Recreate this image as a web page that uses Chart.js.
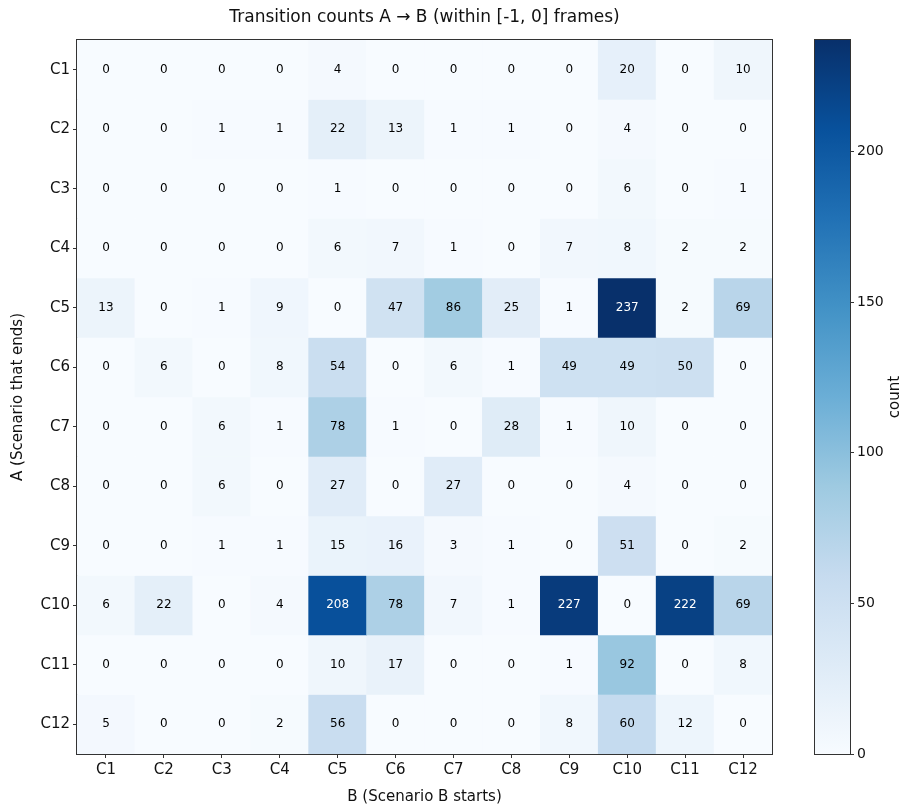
<!DOCTYPE html>
<html>
<head>
<meta charset="utf-8">
<script src="https://cdn.jsdelivr.net/npm/chart.js@4.4.1/dist/chart.umd.min.js"></script>
<style>
  html, body { margin: 0; padding: 0; background: #fff; }
  #wrap { position: relative; width: 904px; height: 810px; }
  #main { position: absolute; left: 0; top: 0; }
  #cbar { position: absolute; left: 790px; top: 0; }
</style>
</head>
<body>
<div id="wrap">
  <canvas id="main" width="904" height="810"></canvas>
  <canvas id="cbar" width="114" height="810"></canvas>
</div>
<script>
// ---- data ----
const rowLabels = ['C1','C2','C3','C4','C5','C6','C7','C8','C9','C10','C11','C12'];
const colLabels = ['C1','C2','C3','C4','C5','C6','C7','C8','C9','C10','C11','C12'];
const rowC1  = [0, 0, 0, 0, 4, 0, 0, 0, 0, 20, 0, 10];
const rowC2  = [0, 0, 1, 1, 22, 13, 1, 1, 0, 4, 0, 0];
const rowC3  = [0, 0, 0, 0, 1, 0, 0, 0, 0, 6, 0, 1];
const rowC4  = [0, 0, 0, 0, 6, 7, 1, 0, 7, 8, 2, 2];
const rowC5  = [13, 0, 1, 9, 0, 47, 86, 25, 1, 237, 2, 69];
const rowC6  = [0, 6, 0, 8, 54, 0, 6, 1, 49, 49, 50, 0];
const rowC7  = [0, 0, 6, 1, 78, 1, 0, 28, 1, 10, 0, 0];
const rowC8  = [0, 0, 6, 0, 27, 0, 27, 0, 0, 4, 0, 0];
const rowC9  = [0, 0, 1, 1, 15, 16, 3, 1, 0, 51, 0, 2];
const rowC10 = [6, 22, 0, 4, 208, 78, 7, 1, 227, 0, 222, 69];
const rowC11 = [0, 0, 0, 0, 10, 17, 0, 0, 1, 92, 0, 8];
const rowC12 = [5, 0, 0, 2, 56, 0, 0, 0, 8, 60, 12, 0];
const counts = [rowC1,rowC2,rowC3,rowC4,rowC5,rowC6,rowC7,rowC8,rowC9,rowC10,rowC11,rowC12];
const colorbarTicks = [0, 50, 100, 150, 200];
const vmin = 0;
const vmax = Math.max(...counts.flat());

// ---- Blues colormap ----
const bluesNodes = ['#f7fbff','#deebf7','#c6dbef','#9ecae1','#6baed6','#4292c6','#2171b5','#08519c','#08306b'];
function hex2rgb(h){ return [1,3,5].map(i => parseInt(h.substr(i,2),16)); }
const bluesRGB = bluesNodes.map(hex2rgb);
function blues(t){
  t = Math.max(0, Math.min(1, t));
  const n = bluesRGB.length - 1;
  const p = t * n;
  const i = Math.min(Math.floor(p), n - 1);
  const f = p - i;
  const a = bluesRGB[i], b = bluesRGB[i+1];
  const c = a.map((v,k) => Math.round(v + (b[k]-v)*f));
  return `rgb(${c[0]},${c[1]},${c[2]})`;
}

const FONT = "'DejaVu Sans', sans-serif";
const nRows = rowLabels.length;

// one dataset per row, floating bars spanning that row
const datasets = counts.map((row, r) => ({
  label: rowLabels[r],
  data: row.map(() => [nRows - 1 - r, nRows - r]),
  backgroundColor: row.map(v => blues((v - vmin) / (vmax - vmin))),
  borderWidth: 0,
  barPercentage: 1,
  categoryPercentage: 1,
  grouped: false
}));

const cellText = {
  id: 'cellText',
  afterDatasetsDraw(chart) {
    const ctx = chart.ctx;
    const xs = chart.scales.x, ys = chart.scales.y;
    ctx.save();
    ctx.font = `12px ${FONT}`;
    ctx.textAlign = 'center';
    ctx.textBaseline = 'middle';
    counts.forEach((row, r) => {
      row.forEach((v, c) => {
        const x = xs.getPixelForValue(c);
        const y = ys.getPixelForValue(nRows - 0.5 - r);
        ctx.fillStyle = v > vmax / 2 ? '#ffffff' : '#000000';
        ctx.fillText(String(v), x, y);
      });
    });
    ctx.restore();
  }
};

const frame = {
  id: 'frame',
  afterDraw(chart) {
    const a = chart.chartArea, ctx = chart.ctx;
    ctx.save();
    ctx.strokeStyle = '#333';
    ctx.lineWidth = 1;
    ctx.strokeRect(Math.round(a.left) - 0.5, Math.round(a.top) - 0.5, Math.round(a.right - a.left) + 1, Math.round(a.bottom - a.top) + 1);
    ctx.restore();
  }
};

new Chart(document.getElementById('main'), {
  type: 'bar',
  data: { labels: colLabels, datasets },
  options: {
    responsive: false,
    animation: false,
    layout: { padding: { left: 0, right: 132, top: 0, bottom: 0 } },
    plugins: {
      legend: { display: false },
      tooltip: { enabled: false },
      title: {
        display: true,
        text: 'Transition counts A \u2192 B (within [-1, 0] frames)',
        fullSize: false,
        color: '#111',
        font: { family: FONT, size: 17, weight: 'normal' },
        padding: { top: 7, bottom: 12.6 }
      }
    },
    scales: {
      x: {
        type: 'category',
        offset: true,
        grid: { offset: false, drawOnChartArea: false, drawTicks: true, tickLength: 4, color: '#333' },
        border: { display: true, color: '#333' },
        ticks: { color: '#111', font: { family: FONT, size: 15 }, padding: 3, maxRotation: 0 },
        title: { display: true, text: 'B (Scenario B starts)', color: '#111', font: { family: FONT, size: 15 }, padding: { top: 0, bottom: 4 } },
        afterFit(s) { s.height = 56; }
      },
      y: {
        type: 'linear',
        min: 0, max: nRows,
        afterBuildTicks(s) { s.ticks = rowLabels.map((_, i) => ({ value: i + 0.5 })); },
        grid: { drawOnChartArea: false, drawTicks: true, tickLength: 4, color: '#333' },
        border: { display: true, color: '#333' },
        ticks: {
          color: '#111', font: { family: FONT, size: 15 }, padding: 3,
          callback: (v) => rowLabels[Math.round(nRows - 0.5 - v)]
        },
        title: { display: true, text: 'A (Scenario that ends)', color: '#111', font: { family: FONT, size: 15 }, padding: { top: 9, bottom: 0 } },
        afterFit(s) { s.width = 77; }
      }
    }
  },
  plugins: [cellText, frame]
});

// ---- colorbar ----
const cbarLabel = {
  id: 'cbarLabel',
  afterDraw(chart) {
    const a = chart.chartArea, ctx = chart.ctx;
    ctx.save();
    ctx.strokeStyle = '#333';
    ctx.lineWidth = 1;
    ctx.strokeRect(Math.round(a.left) - 0.5, Math.round(a.top) - 0.5, Math.round(a.right - a.left) + 1, Math.round(a.bottom - a.top) + 1);
    ctx.translate(105, (a.top + a.bottom) / 2);
    ctx.rotate(-Math.PI / 2);
    ctx.font = `15px ${FONT}`;
    ctx.fillStyle = '#111';
    ctx.textAlign = 'center';
    ctx.textBaseline = 'middle';
    ctx.fillText('count', 0, 0);
    ctx.restore();
  }
};

new Chart(document.getElementById('cbar'), {
  type: 'bar',
  data: {
    labels: ['count'],
    datasets: [{
      data: [[vmin, vmax]],
      barPercentage: 1,
      categoryPercentage: 1,
      borderWidth: 0,
      backgroundColor(ctx) {
        const area = ctx.chart.chartArea;
        if (!area) return bluesNodes[0];
        const g = ctx.chart.ctx.createLinearGradient(0, area.bottom, 0, area.top);
        bluesNodes.forEach((c, i) => g.addColorStop(i / (bluesNodes.length - 1), c));
        return g;
      }
    }]
  },
  options: {
    responsive: false,
    animation: false,
    layout: { padding: { left: 25, right: 0, top: 40, bottom: 56 } },
    plugins: { legend: { display: false }, tooltip: { enabled: false } },
    scales: {
      x: { display: false },
      y: {
        position: 'right',
        min: vmin, max: vmax,
        afterBuildTicks(s) { s.ticks = colorbarTicks.map(v => ({ value: v })); },
        grid: { drawOnChartArea: false, drawTicks: true, tickLength: 4, color: '#333' },
        border: { display: false },
        ticks: { color: '#111', font: { family: FONT, size: 14 }, padding: 3 },
        afterFit(s) { s.width = 54; }
      }
    }
  },
  plugins: [cbarLabel]
});
</script>
</body>
</html>
